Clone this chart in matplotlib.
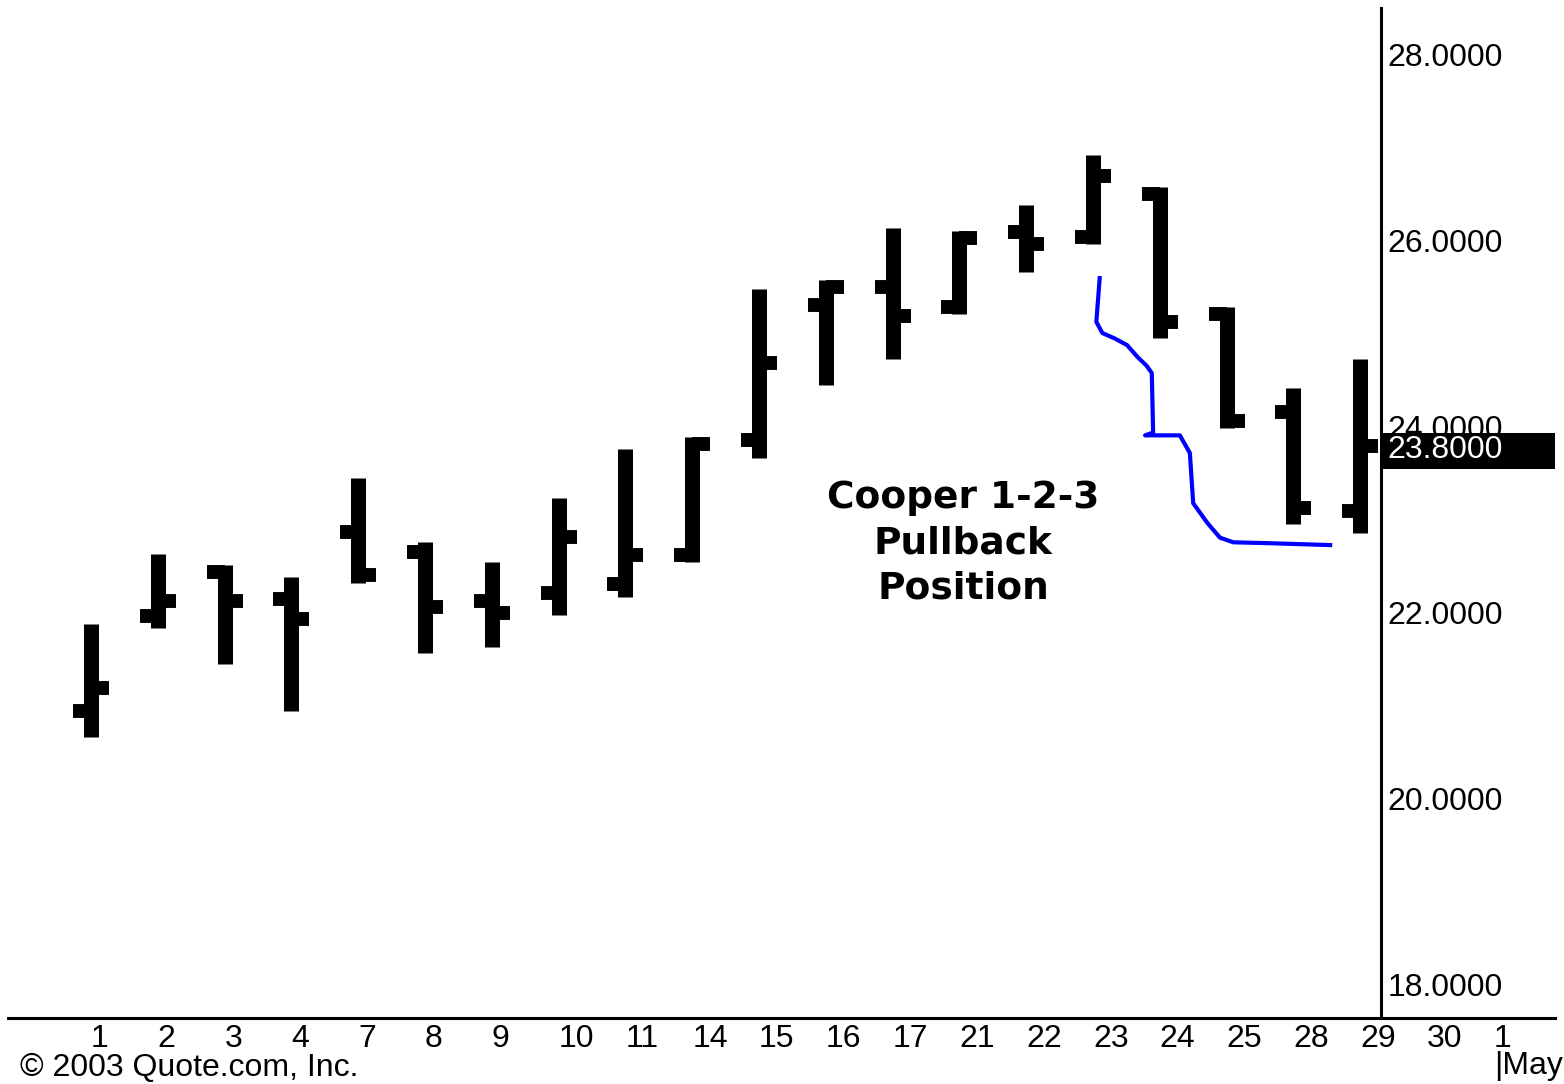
import numpy as np
import matplotlib
matplotlib.use("Agg")
import matplotlib.pyplot as plt
from matplotlib.patches import Rectangle

plt.rcParams['font.family'] = ['Liberation Sans', 'DejaVu Sans']

# daily bars, April 2003
days = ['1', '2', '3', '4', '7', '8', '9', '10', '11', '14', '15', '16', '17',
        '21', '22', '23', '24', '25', '28', '29', '30', '1\n|May']
opens  = [20.95, 21.97, 22.44, 22.15, 22.87, 22.66, 22.13, 22.22, 22.31, 22.62,
          23.86, 25.31, 25.51, 25.29, 26.10, 26.04, 26.51, 25.22, 24.16, 23.10]
highs  = [21.88, 22.63, 22.52, 22.39, 23.45, 22.76, 22.55, 23.24, 23.76, 23.89,
          25.48, 25.58, 26.14, 26.11, 26.39, 26.92, 26.58, 25.29, 24.42, 24.73]
lows   = [20.67, 21.84, 21.45, 20.95, 22.32, 21.57, 21.63, 21.98, 22.17, 22.55,
          23.67, 24.45, 24.73, 25.22, 25.67, 25.97, 24.96, 23.99, 22.96, 22.86]
closes = [21.19, 22.13, 22.13, 21.94, 22.41, 22.06, 22.00, 22.82, 22.62, 23.82,
          24.69, 25.51, 25.19, 26.03, 25.97, 26.70, 25.13, 24.06, 23.13, 23.80]

# hand drawn pullback curve (x in bar units, y in price)
curve_x = [15.10, 15.05, 15.14, 15.33, 15.51, 15.67, 15.80, 15.88, 15.90, 15.78,
           16.30, 16.45, 16.50, 16.71, 16.90, 17.10, 17.65, 18.55]
curve_y = [25.60, 25.13, 25.01, 24.95, 24.88, 24.75, 24.66, 24.58, 23.94, 23.91,
           23.91, 23.72, 23.18, 22.97, 22.81, 22.76, 22.75, 22.73]

yticks = [18, 20, 22, 24, 26, 28]
last_price = 23.80

fig = plt.figure(figsize=(15.64, 10.84), dpi=100)
ax = fig.add_axes([8/1564, 66/1084, 1547/1564, 1010/1084])

x = np.arange(len(opens))
tw = 0.27
ax.vlines(x, lows, highs, color='black', lw=10.8, capstyle='butt')
ax.hlines(opens, x - tw, x, color='black', lw=10, capstyle='butt')
ax.hlines(closes, x, x + tw, color='black', lw=10, capstyle='butt')

ax.plot(curve_x, curve_y, color='#0000ff', lw=3, solid_joinstyle='round')

ax.text(13.06, 22.75, 'Cooper 1-2-3\nPullback\nPosition', ha='center', va='center',
        fontsize=27, fontweight='bold', family='DejaVu Sans',
        multialignment='center', linespacing=1.32)

ax.set_xlim(-1.2425, 21.916)
ax.set_ylim(17.645, 28.505)

spine_x = 19.31
for s in ['left', 'top']:
    ax.spines[s].set_visible(False)
ax.spines['right'].set_position(('data', spine_x))
ax.spines['right'].set_linewidth(2.2)
ax.spines['bottom'].set_linewidth(2.2)

ax.yaxis.tick_right()
ax.set_yticks(yticks)
ax.set_yticklabels(['%.4f' % v for v in yticks])
ax.tick_params(axis='y', length=0, pad=5, labelsize=23)

ax.set_xticks(np.arange(len(days)))
ax.set_xticklabels(days)
ax.tick_params(axis='x', length=0, pad=4, labelsize=23)
for lab in ax.get_xticklabels():
    lab.set_ha('left')
    lab.set_linespacing(0.9)

# last price flag on the price axis
ax.add_patch(Rectangle((spine_x, last_price - 0.25), 21.916 - spine_x, 0.39,
                       facecolor='black', edgecolor='none', clip_on=False, zorder=3))
ax.text(spine_x + 0.1, last_price - 0.05, '%.4f' % last_price, color='white',
        fontsize=23, ha='left', va='center', zorder=4, clip_on=False)

fig.text(20/1564, 1 - 1068/1084, '\u00a9 2003 Quote.com, Inc.', fontsize=23,
         ha='left', va='center')

fig.savefig('out.png', dpi=100, facecolor='white')
